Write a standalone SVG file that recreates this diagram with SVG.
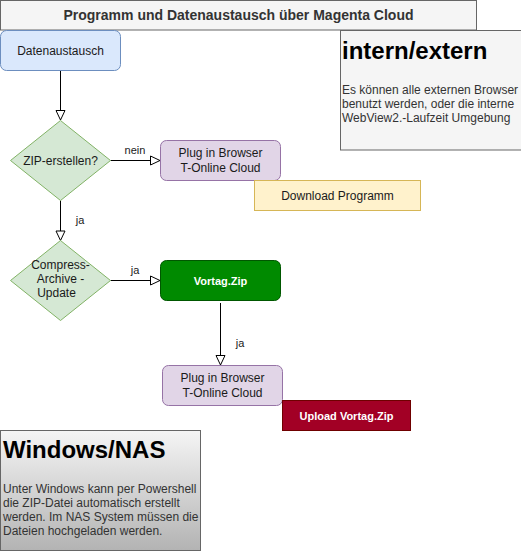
<svg xmlns="http://www.w3.org/2000/svg" width="521" height="554" viewBox="0 0 521 554">
<style>
text{font-family:"Liberation Sans",Arial,sans-serif;}
.lbl{font-size:12px;fill:#1a1a1a;text-anchor:middle;}
.edge{font-size:11px;fill:#1a1a1a;text-anchor:middle;}
.head{font-size:24px;font-weight:bold;fill:#000;}
.desc{font-size:12px;fill:#333;}
.conn{stroke:#000;stroke-width:1;fill:none;marker-end:url(#open);}
.white{font-size:11px;font-weight:bold;fill:#fff;text-anchor:middle;}
</style>
<defs>
<marker id="open" markerUnits="userSpaceOnUse" markerWidth="12" markerHeight="12" viewBox="0 0 12 12" refX="10.5" refY="6" orient="auto">
<path d="M1,1.5 L10.5,6 L1,10.5 Z" fill="#fff" stroke="#000" stroke-width="1"/>
</marker>
<linearGradient id="gNas" x1="0" y1="0" x2="0" y2="1">
<stop offset="0" stop-color="#f5f5f5"/>
<stop offset="1" stop-color="#b3b3b3"/>
</linearGradient>
</defs>
<rect width="521" height="554" fill="#fff"/>
<g id="title">
<rect x="0.5" y="0.5" width="476" height="29.5" fill="#f5f5f5" stroke="#666"/>
<text x="238.5" y="20" font-size="14" font-weight="bold" fill="#333" text-anchor="middle">Programm und Datenaustausch über Magenta Cloud</text>
</g>
<g id="intern-extern">
<rect x="340.5" y="30.5" width="181" height="119.5" fill="#f5f5f5" stroke="#666"/>
<text class="head" x="342" y="59">intern/extern</text>
<text class="desc" x="342" y="94">Es können alle externen Browser</text>
<text class="desc" x="342" y="108">benutzt werden, oder die interne</text>
<text class="desc" x="342" y="122">WebView2.-Laufzeit Umgebung</text>
</g>
<g id="connectors">
<path class="conn" d="M60.5,70.5 V120"/>
<path class="conn" d="M110.5,160.5 H160"/>
<text class="edge" x="135" y="154">nein</text>
<path class="conn" d="M60.5,200.5 V240.5"/>
<text class="edge" x="80" y="224">ja</text>
<path class="conn" d="M110.5,280.5 H160"/>
<text class="edge" x="135" y="274">ja</text>
<path class="conn" d="M220.5,303 V365"/>
<text class="edge" x="240" y="347">ja</text>
</g>
<g id="datenaustausch">
<rect x="0.5" y="30.5" width="120" height="40" rx="6" fill="#dae8fc" stroke="#6c8ebf"/>
<text class="lbl" x="60.5" y="55">Datenaustausch</text>
</g>
<g id="zip-erstellen">
<path d="M60.5,120.5 L110.5,160.5 L60.5,200.5 L10.5,160.5 Z" fill="#d5e8d4" stroke="#82b366"/>
<text class="lbl" x="60.5" y="164.5">ZIP-erstellen?</text>
</g>
<g id="plug1">
<rect x="160.5" y="140.5" width="120" height="40" rx="6" fill="#e1d5e7" stroke="#9673a6"/>
<text class="lbl" x="220.5" y="157">Plug in Browser</text>
<text class="lbl" x="220.5" y="172">T-Online Cloud</text>
</g>
<g id="download">
<rect x="254.5" y="180.5" width="166" height="30" fill="#fff2cc" stroke="#d6b656"/>
<text class="lbl" x="337.5" y="199.5">Download Programm</text>
</g>
<g id="compress">
<path d="M60.5,240.5 L110.5,280.5 L60.5,320.5 L10.5,280.5 Z" fill="#d5e8d4" stroke="#82b366"/>
<text class="lbl" x="60.5" y="268.5">Compress-</text>
<text class="lbl" x="60.5" y="282.5">Archive -</text>
<text class="lbl" x="56.5" y="297">Update</text>
</g>
<g id="vortag">
<rect x="160.5" y="260.5" width="120" height="40" rx="6" fill="#008a00" stroke="#005700"/>
<text class="white" x="220.5" y="284.5">Vortag.Zip</text>
</g>
<g id="plug2">
<rect x="162.5" y="365.5" width="120" height="40" rx="6" fill="#e1d5e7" stroke="#9673a6"/>
<text class="lbl" x="222.5" y="382">Plug in Browser</text>
<text class="lbl" x="222.5" y="397">T-Online Cloud</text>
</g>
<g id="upload">
<rect x="282.5" y="400.5" width="128" height="30" fill="#a20025" stroke="#6f0000"/>
<text class="white" x="346.5" y="419.5">Upload Vortag.Zip</text>
</g>
<g id="windows-nas">
<rect x="0.5" y="430.5" width="200" height="120" fill="url(#gNas)" stroke="#666"/>
<text class="head" x="3" y="458">Windows/NAS</text>
<text class="desc" x="3" y="493">Unter Windows kann per Powershell</text>
<text class="desc" x="3" y="507">die ZIP-Datei automatisch erstellt</text>
<text class="desc" x="3" y="521">werden. Im NAS System müssen die</text>
<text class="desc" x="3" y="535">Dateien hochgeladen werden.</text>
</g>
</svg>
